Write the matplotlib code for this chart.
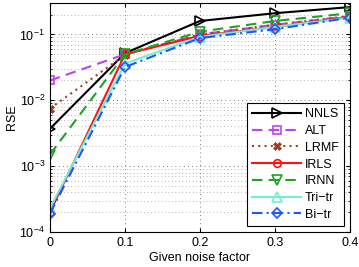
import matplotlib
matplotlib.use("Agg")
import matplotlib.pyplot as plt
from matplotlib.ticker import LogLocator, NullFormatter

plt.rcParams["font.family"] = ["Liberation Sans", "DejaVu Sans"]

noise = [0.0, 0.1, 0.2, 0.3, 0.4]
nnls = [0.0037, 0.052, 0.16, 0.21, 0.26]
alt = [0.020, 0.050, 0.100, 0.14, 0.19]
lrmf = [0.0075, 0.049, 0.100, 0.14, 0.19]
irls = [2.0e-4, 0.050, 0.095, 0.13, 0.185]
irnn = [1.5e-3, 0.050, 0.110, 0.16, 0.21]
tritr = [2.3e-4, 0.036, 0.092, 0.13, 0.18]
bitr = [1.9e-4, 0.032, 0.088, 0.12, 0.18]

labels = ["NNLS", "ALT", "LRMF", "IRLS", "IRNN", "Tri\u2212tr", "Bi\u2212tr"]

fig = plt.figure(figsize=(3.59, 2.67), dpi=100)
ax = fig.add_axes([50 / 359, 1 - 232 / 267, 300 / 359, 229 / 267])

lw = 1.5
ax.plot(noise, nnls, color="black", ls="-", lw=lw, marker=">", ms=6.5,
        mfc="none", mew=1.2, label=labels[0])
ax.plot(noise, alt, color="#bb44ee", ls=(0, (5, 3)), lw=lw, marker="s", ms=5.5,
        mfc="none", mew=1.2, label=labels[1])
ax.plot(noise, lrmf, color="#a0402a", ls=(0, (1, 2)), lw=lw, marker="X", ms=6,
        mew=0.5, label=labels[2])
ax.plot(noise, irls, color="#ff1111", ls="-", lw=lw, marker="o", ms=5.5,
        mfc="none", mew=1.2, label=labels[3])
ax.plot(noise, irnn, color="#22a022", ls=(0, (5, 3)), lw=lw, marker="v", ms=6.5,
        mfc="none", mew=1.2, label=labels[4])
ax.plot(noise, tritr, color="#70f0d0", ls="-", lw=lw, marker="^", ms=6.5,
        mfc="none", mew=1.2, label=labels[5])
ax.plot(noise, bitr, color="#2255ff", ls=(0, (5, 2, 1, 2)), lw=lw, marker="D",
        ms=5.5, mfc="none", mew=1.2, label=labels[6])

ax.set_yscale("log")
ax.set_xlim(0, 0.4)
ax.set_ylim(1e-4, 0.3)
ax.set_xticks([0, 0.1, 0.2, 0.3, 0.4])
ax.set_xticklabels(["0", "0.1", "0.2", "0.3", "0.4"])
ax.yaxis.set_minor_locator(LogLocator(base=10, subs=range(2, 10)))
ax.yaxis.set_minor_formatter(NullFormatter())
ax.grid(True, which="major", ls=(0, (1, 4)), color="#555555", lw=0.6)
ax.grid(True, which="minor", axis="y", ls=(0, (1, 4)), color="#777777", lw=0.5)
ax.tick_params(which="both", direction="in", top=True, right=True,
               labelsize=9, length=3)
ax.tick_params(which="minor", length=1.5)
ax.set_xlabel("Given noise factor", fontsize=9, labelpad=2)
ax.set_ylabel("RSE", fontsize=9, labelpad=1)

leg = ax.legend(loc="lower right", fontsize=9, handlelength=3.9,
                labelspacing=0.38, borderpad=0.45, handletextpad=0.3,
                fancybox=False, framealpha=1, edgecolor="black",
                borderaxespad=0.45)
leg.get_frame().set_linewidth(0.8)

fig.savefig("out.png", dpi=100)
